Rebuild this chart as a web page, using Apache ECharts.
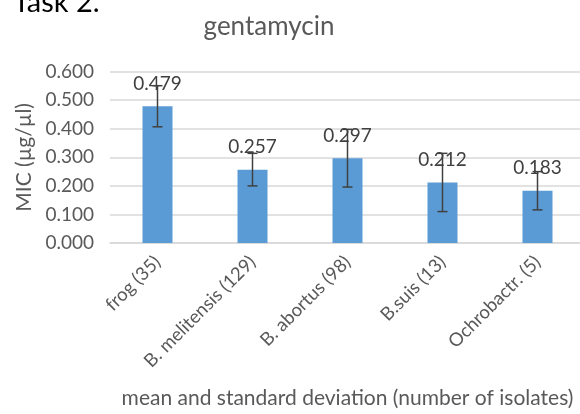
<!DOCTYPE html>
<html><head><meta charset="utf-8">
<script src="https://cdn.jsdelivr.net/npm/echarts@6/dist/echarts.min.js"></script>
<style>html,body{margin:0;padding:0;background:#fff}#c{width:580px;height:414px}</style>
</head><body><div id="c"></div>
<script>
var categories = ['frog (35)', 'B. melitensis (129)', 'B. abortus (98)', 'B.suis (13)', 'Ochrobactr. (5)'];
var means = [0.479, 0.257, 0.297, 0.212, 0.183];
var sds = [0.072, 0.057, 0.101, 0.102, 0.067];
var yTicks = [0, 0.1, 0.2, 0.3, 0.4, 0.5, 0.6];

var FONT = 'Lato';
var chart = echarts.init(document.getElementById('c'), null, {renderer: 'canvas'});
var errData = means.map(function (m, i) { return [i, m - sds[i], m + sds[i]]; });
chart.setOption({
  animation: false,
  backgroundColor: '#fff',
  title: {
    text: 'gentamycin', left: 264, top: 9, textAlign: 'center',
    textStyle: {fontFamily: FONT, fontSize: 26, fontWeight: 'normal', color: '#595959'}
  },
  graphic: [{
    type: 'text', left: 13, top: -12,
    style: {text: 'Task 2.', font: '29px ' + FONT, fill: '#000'}
  }],
  grid: {left: 110, top: 71.7, width: 475, height: 171.3, containLabel: false, outerBoundsMode: 'none'},
  xAxis: {
    type: 'category', data: categories,
    axisLine: {lineStyle: {color: '#d9d9d9', width: 1.5}},
    axisTick: {show: false},
    axisLabel: {rotate: 45, margin: 16, fontFamily: FONT, fontSize: 18.5, color: '#595959', interval: 0},
    name: 'mean and standard deviation (number of isolates)',
    nameLocation: 'middle', nameGap: 145,
    nameTextStyle: {fontFamily: FONT, fontSize: 21, color: '#595959'}
  },
  yAxis: {
    type: 'value', min: yTicks[0], max: yTicks[yTicks.length - 1], interval: 0.1,
    axisLine: {show: false}, axisTick: {show: false},
    splitLine: {lineStyle: {color: '#d9d9d9', width: 1.5}},
    axisLabel: {margin: 16, fontFamily: FONT, fontSize: 19, color: '#595959',
      formatter: function (v) { return v.toFixed(3); }},
    name: 'MIC (µg/µl)', nameLocation: 'middle', nameGap: 70,
    nameTextStyle: {fontFamily: FONT, fontSize: 21, color: '#595959'}
  },
  series: [{
    type: 'bar', data: means, barWidth: 30,
    itemStyle: {color: '#5b9bd5'},
    label: {show: true, position: 'top', distance: 13, fontFamily: FONT, fontSize: 19, color: '#404040',
      formatter: function (p) { return p.value.toFixed(3); }}
  }, {
    type: 'custom', data: errData, z: 10,
    renderItem: function (params, api) {
      var x = api.value(0);
      var lo = api.coord([x, api.value(1)]);
      var hi = api.coord([x, api.value(2)]);
      var w = 5;
      var st = {stroke: '#404040', lineWidth: 1.5};
      return {type: 'group', children: [
        {type: 'line', shape: {x1: hi[0], y1: hi[1], x2: lo[0], y2: lo[1]}, style: st},
        {type: 'line', shape: {x1: hi[0] - w, y1: hi[1], x2: hi[0] + w, y2: hi[1]}, style: st},
        {type: 'line', shape: {x1: lo[0] - w, y1: lo[1], x2: lo[0] + w, y2: lo[1]}, style: st}
      ]};
    }
  }]
});
</script></body></html>
